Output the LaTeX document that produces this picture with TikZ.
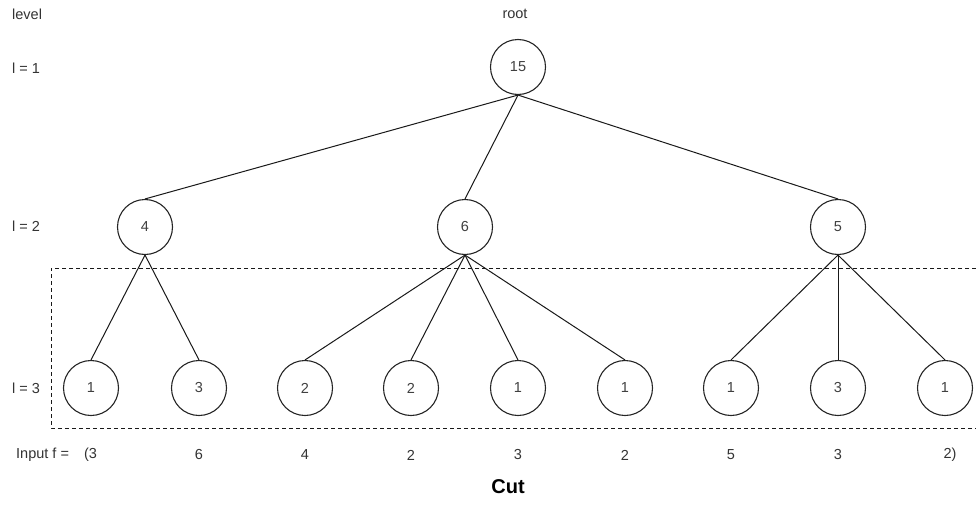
\documentclass[tikz,border=0pt]{standalone}
\usepackage{fontspec}
\setmainfont{Liberation Sans}
\begin{document}
\begin{tikzpicture}[x=1pt,y=-1pt,
  vertex/.style={circle,draw=black!85,line width=1.1pt,minimum size=55pt,inner sep=0pt,
    font=\fontsize{14.5}{17}\selectfont,text=black!75},
  lbl/.style={font=\fontsize{14.5}{17}\selectfont,text=black!80,inner sep=0pt},
  edge/.style={draw=black!90,line width=1pt},
  cutbox/.style={draw=black!90,line width=0.9pt,dash pattern=on 4pt off 3pt}]
\useasboundingbox[fill=white] (0,0) rectangle (976,522);

% level labels
\node[lbl,anchor=west] (lvl) at (12,14) {level};
\node[lbl] (rootlbl) at (515,14) {root};
\node[lbl,anchor=west] (l1) at (12,68) {l = 1};
\node[lbl,anchor=west] (l2) at (12,226) {l = 2};
\node[lbl,anchor=west] (l3) at (12,388) {l = 3};

% tree
\node[vertex] (r) at (518,67) {15};
\node[vertex] (a) at (145,227) {4};
\node[vertex] (b) at (465,227) {6};
\node[vertex] (c) at (838,227) {5};

\node[vertex] (a1) at (91,388) {1};
\node[vertex] (a2) at (199,388) {3};
\node[vertex] (b1) at (305,388) {2};
\node[vertex] (b2) at (411,388) {2};
\node[vertex] (b3) at (518,388) {1};
\node[vertex] (b4) at (625,388) {1};
\node[vertex] (c1) at (731,388) {1};
\node[vertex] (c2) at (838,388) {3};
\node[vertex] (c3) at (945,388) {1};

\foreach \p/\k in {r/a,r/b,r/c,a/a1,a/a2,b/b1,b/b2,b/b3,b/b4,c/c1,c/c2,c/c3}
  \draw[edge] (\p.south) -- (\k.north);

% cut region
\coordinate (cTR) at (976,268);
\coordinate (cTL) at (51,268);
\coordinate (cBL) at (51,428);
\coordinate (cBR) at (976,428);
\draw[cutbox] (cTR) -- (cTL) -- (cBL) -- (cBR);

% input values
\node[lbl,anchor=west] (inp) at (16,455) {Input f =\hspace{15pt}(3};
\node[lbl] (f2) at (199,455) {6};
\node[lbl] (f3) at (305,455) {4};
\node[lbl] (f4) at (411,455) {2};
\node[lbl] (f5) at (518,455) {3};
\node[lbl] (f6) at (625,455) {2};
\node[lbl] (f7) at (731,455) {5};
\node[lbl] (f8) at (838,455) {3};
\node[lbl] (f9) at (950,455) {2)};

\node[font=\fontsize{20}{24}\selectfont\bfseries,inner sep=0pt] (cut) at (508,487) {Cut};
\end{tikzpicture}
\end{document}
